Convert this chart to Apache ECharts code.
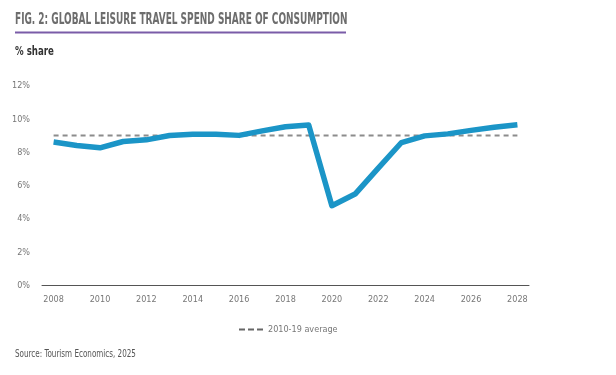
<!DOCTYPE html>
<html>
<head>
<meta charset="utf-8">
<script src="https://cdn.jsdelivr.net/npm/echarts@6/dist/echarts.min.js"></script>
<style>
  html, body { margin: 0; padding: 0; background: #fff; }
  #main { width: 616px; height: 375px; }
</style>
</head>
<body>
<div id="main"></div>
<script>
var chart = echarts.init(document.getElementById('main'));

var years = ['2008', '2009', '2010', '2011', '2012', '2013', '2014', '2015', '2016', '2017',
    '2018', '2019', '2020', '2021', '2022', '2023', '2024', '2025', '2026', '2027', '2028'];
// leisure travel spend share of consumption, %
var shareValues = [8.63, 8.42, 8.28, 8.66, 8.76, 9.02, 9.1, 9.1, 9.03, 9.3,
    9.55, 9.66, 4.8, 5.5, 7.06, 8.6, 9.0, 9.12, 9.33, 9.52, 9.67];
// 2010-19 average
var averageValues = [9.02, 9.02, 9.02, 9.02, 9.02, 9.02, 9.02, 9.02, 9.02, 9.02,
    9.02, 9.02, 9.02, 9.02, 9.02, 9.02, 9.02, 9.02, 9.02, 9.02, 9.02];

var cond = '"DejaVu Sans Condensed", "DejaVu Sans", sans-serif';
var dashIcon = 'path://M0,0H6V2H0Z M9,0H15V2H9Z M18,0H24V2H18Z';

var option = {
    animation: false,
    backgroundColor: '#fff',
    graphic: [{
        type: 'text',
        x: 15, y: 13,
        scaleX: 0.665,
        style: { text: 'FIG. 2: GLOBAL LEISURE TRAVEL SPEND SHARE OF CONSUMPTION',
            font: 'bold 15px ' + cond, fill: '#6d6d6d' }
    }, {
        type: 'line',
        shape: { x1: 15, y1: 32.5, x2: 346, y2: 32.5 },
        style: { stroke: '#7a5ca8', lineWidth: 2 }
    }, {
        type: 'text',
        x: 15, y: 46,
        scaleX: 0.8,
        style: { text: '% share', font: 'bold 12px ' + cond, fill: '#333' }
    }, {
        type: 'text',
        x: 15, y: 349,
        scaleX: 0.8,
        style: { text: 'Source: Tourism Economics, 2025', font: '10px ' + cond, fill: '#555' }
    }],
    legend: {
        data: [{ name: '2010-19 average', icon: dashIcon }],
        left: 234,
        top: 320,
        itemWidth: 24,
        itemHeight: 2,
        itemGap: 4,
        itemStyle: { color: '#666' },
        textStyle: { fontFamily: cond, fontSize: 9, color: '#777' }
    },
    grid: { left: 42, right: 87, top: 86, bottom: 89.5, containLabel: false },
    xAxis: {
        type: 'category',
        data: years,
        boundaryGap: true,
        axisLine: { lineStyle: { color: '#555', width: 1 } },
        axisTick: { show: false },
        axisLabel: { interval: 1, margin: 10, fontFamily: cond, fontSize: 9, color: '#777' }
    },
    yAxis: {
        type: 'value',
        min: 0,
        max: 12,
        interval: 2,
        axisLine: { show: false },
        axisTick: { show: false },
        splitLine: { show: false },
        axisLabel: {
            margin: 12,
            fontFamily: cond, fontSize: 9, color: '#777',
            formatter: '{value}%'
        }
    },
    series: [{
        name: '2010-19 average',
        type: 'line',
        data: averageValues,
        symbol: 'none',
        lineStyle: { color: '#8c8c8c', width: 2, type: [5, 4] },
        itemStyle: { color: '#8c8c8c' },
        z: 2
    }, {
        name: 'Share',
        type: 'line',
        data: shareValues,
        symbol: 'none',
        lineStyle: { color: '#1b95c7', width: 5.5, join: 'round' },
        itemStyle: { color: '#1b95c7' },
        z: 3
    }]
};

chart.setOption(option);
</script>
</body>
</html>
